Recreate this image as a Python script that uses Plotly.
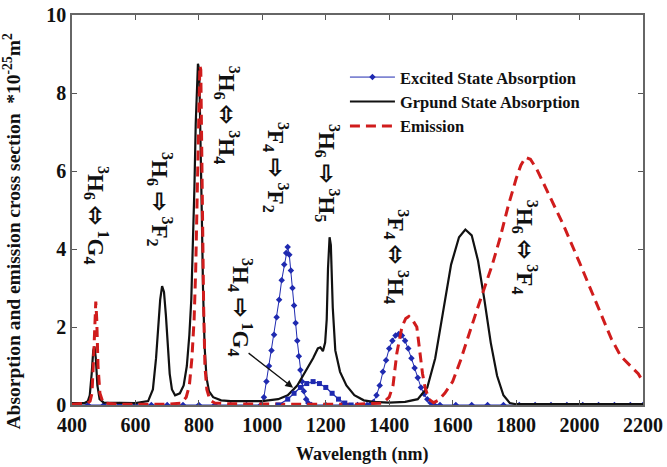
import plotly.graph_objects as go

# ---------------- data ----------------
gsa_x = [400, 440, 450, 456, 462, 467, 471, 475, 480, 487, 500, 540, 600, 640, 655, 665, 672, 678, 684,
         690, 696, 702, 708, 715, 725, 740, 752, 762, 770, 776, 781, 786, 790, 794, 797, 801, 805, 809,
         813, 818, 824, 832, 845, 870, 900, 950, 1000, 1050, 1080, 1110, 1140, 1160, 1175, 1183, 1191,
         1198, 1203, 1207, 1212, 1216, 1222, 1230, 1245, 1265, 1290, 1320, 1350, 1400, 1450, 1490, 1520,
         1545, 1570, 1595, 1620, 1640, 1660, 1680, 1700, 1720, 1740, 1760, 1780, 1800, 1900, 2000, 2100, 2200]
gsa_y = [0.05, 0.05, 0.1, 0.25, 0.8, 1.4, 1.5, 1.2, 0.5, 0.15, 0.06, 0.05, 0.05, 0.1, 0.4, 1.2, 2.0, 2.7, 3.05,
         2.9, 2.3, 1.5, 0.8, 0.4, 0.25, 0.3, 0.5, 1.0, 1.8, 2.7, 4.0, 5.6, 7.2, 8.4, 8.75, 8.6, 7.2, 5.0,
         3.0, 1.5, 0.7, 0.35, 0.2, 0.12, 0.1, 0.1, 0.1, 0.15, 0.25, 0.5, 0.9, 1.2, 1.45, 1.48, 1.38,
         1.6, 2.2, 3.5, 4.3, 4.1, 2.5, 1.4, 0.85, 0.5, 0.25, 0.12, 0.08, 0.06, 0.08, 0.15, 0.45,
         1.2, 2.4, 3.6, 4.3, 4.5, 4.35, 3.7, 2.7, 1.6, 0.75, 0.25, 0.05, 0.02, 0.02, 0.02, 0.02, 0.02]

em_x = [400, 450, 457, 463, 468, 472, 475, 478, 482, 488, 498, 550, 700, 745, 760, 770, 778, 785, 790, 795,
        799, 803, 806, 809, 812, 815, 819, 825, 835, 850, 900, 1100, 1300, 1380, 1400, 1412, 1424, 1440,
        1452, 1462, 1472, 1487, 1497, 1505, 1513, 1525, 1540, 1555, 1575, 1600, 1625, 1650, 1675, 1700,
        1725, 1750, 1775, 1800, 1815, 1830, 1845, 1865, 1900, 1950, 2000, 2050, 2100, 2130, 2160, 2185, 2200]
em_y = [0.02, 0.05, 0.1, 0.3, 1.2, 2.3, 2.65, 2.2, 1.0, 0.3, 0.05, 0.02, 0.02, 0.05, 0.2, 0.5, 1.2, 2.2, 3.5, 5.5,
        7.5, 8.7, 8.6, 7.0, 4.5, 2.5, 1.0, 0.4, 0.12, 0.05, 0.03, 0.02, 0.02, 0.05, 0.2, 0.5, 1.33, 2.0,
        2.22, 2.27, 2.2, 2.0, 1.33, 0.8, 0.45, 0.15, 0.06, 0.12, 0.3, 0.6, 1.15, 1.8, 2.4, 3.0,
        3.6, 4.3, 5.1, 5.8, 6.15, 6.35, 6.3, 6.05, 5.45, 4.6, 3.65, 2.65, 1.7, 1.25, 1.0, 0.8, 0.6]

esa_x = [400, 450, 500, 550, 600, 650, 700, 750, 800, 850, 900, 950, 995, 1005, 1013, 1021, 1029, 1037,
         1045, 1053, 1061, 1069, 1075, 1080, 1085, 1090, 1095, 1100, 1105, 1110, 1115, 1120, 1125, 1131,
         1138, 1145, 1155, 1200, 1250, 1300, 1330, 1340, 1350, 1360, 1370, 1380, 1390, 1400, 1410, 1420,
         1430, 1440, 1450, 1460, 1470, 1480, 1490, 1500, 1510, 1520, 1530, 1540, 1560, 1610, 1660, 1710,
         1760, 1810, 1860, 1910, 1960, 2010, 2060, 2110, 2160, 2200]
esa_y = [0, 0, 0, 0, 0, 0, 0, 0, 0, 0, 0, 0, 0, 0.2, 0.6, 1.0, 1.4, 1.8,
         2.25, 2.7, 3.2, 3.6, 3.9, 4.05, 3.85, 3.45, 3.0, 2.55, 2.1, 1.65, 1.25, 0.9, 0.6, 0.35,
         0.15, 0.05, 0, 0, 0, 0, 0, 0.02, 0.08, 0.25, 0.5, 0.85, 1.15, 1.45, 1.65, 1.78,
         1.82, 1.78, 1.65, 1.45, 1.2, 0.95, 0.7, 0.45, 0.28, 0.15, 0.06, 0.02, 0, 0, 0, 0,
         0, 0, 0, 0, 0, 0, 0, 0, 0, 0]

g4_x = [1050, 1080, 1100, 1120, 1140, 1160, 1180, 1200, 1220, 1240, 1260, 1280]
g4_y = [0, 0.15, 0.3, 0.45, 0.55, 0.6, 0.55, 0.45, 0.3, 0.15, 0.05, 0]

x_ticks = [400, 600, 800, 1000, 1200, 1400, 1600, 1800, 2000, 2200]
y_ticks = [0, 2, 4, 6, 8, 10]

labels = [
    ("<sup>3</sup>H<sub>6</sub> \u2B04 <sup>1</sup>G<sub>4</sub>", 479, 4.87),
    ("<sup>3</sup>H<sub>6</sub> \u21E8 <sup>3</sup>F<sub>2</sub>", 677, 5.26),
    ("<sup>3</sup>H<sub>6</sub> \u2B04 <sup>3</sup>H<sub>4</sub>", 889, 7.44),
    ("<sup>3</sup>F<sub>4</sub> \u21E8 <sup>3</sup>F<sub>2</sub>", 1043, 6.08),
    ("<sup>3</sup>H<sub>6</sub> \u21E8 <sup>3</sup>H<sub>5</sub>", 1204, 5.95),
    ("<sup>3</sup>H<sub>4</sub> \u21E8 <sup>1</sup>G<sub>4</sub>", 933, 2.51),
    ("<sup>3</sup>F<sub>4</sub> \u2B04 <sup>3</sup>H<sub>4</sub>", 1424, 3.79),
    ("<sup>3</sup>H<sub>6</sub> \u2B04 <sup>3</sup>F<sub>4</sub>", 1828, 4.03),
]

SERIF = "Liberation Serif, Times New Roman, serif"
BLUE = "#1f2ab0"
RED = "#d01c1c"

fig = go.Figure()
fig.add_trace(go.Scatter(x=esa_x, y=esa_y, mode="lines+markers", name="Excited State Absorption",
                         line=dict(color=BLUE, width=1), marker=dict(symbol="diamond", size=5, color=BLUE)))
fig.add_trace(go.Scatter(x=gsa_x, y=gsa_y, mode="lines", name="Grpund State Absorption",
                         line=dict(color="#111111", width=2.2)))
fig.add_trace(go.Scatter(x=em_x, y=em_y, mode="lines", name="Emission",
                         line=dict(color=RED, width=3, dash="10px,6px")))
fig.add_trace(go.Scatter(x=g4_x, y=g4_y, mode="lines+markers", showlegend=False,
                         line=dict(color=BLUE, width=1.2),
                         marker=dict(symbol="square", size=5, color=BLUE)))

for txt, lx, ly in labels:
    fig.add_annotation(x=lx, y=ly, text=txt, textangle=90, showarrow=False,
                       font=dict(family=SERIF, size=23, color="#111", weight="bold"),
                       xanchor="center", yanchor="middle")

fig.add_annotation(x=1097, y=0.44, ax=952, ay=1.36, axref="x", ayref="y", xref="x", yref="y",
                   text="", showarrow=True, arrowhead=2, arrowsize=1.2, arrowwidth=1.3, arrowcolor="#111")

# axis titles as annotations for precise placement
fig.add_annotation(xref="paper", yref="paper", x=-0.105, y=0.445, textangle=-90, showarrow=False,
                   text="Absorption and emission cross section  *10<sup>-25</sup>m<sup>2</sup>",
                   font=dict(family=SERIF, size=19.5, color="#111", weight="bold"),
                   xanchor="center", yanchor="middle")
fig.add_annotation(xref="paper", yref="paper", x=0.508, y=-0.128, showarrow=False,
                   text="Wavelength (nm)",
                   font=dict(family=SERIF, size=18, color="#111", weight="bold"),
                   xanchor="center", yanchor="middle")

fig.update_layout(
    width=667, height=467,
    margin=dict(l=72, r=24, t=15, b=62),
    paper_bgcolor="white", plot_bgcolor="white",
    font=dict(family=SERIF, color="#111"),
    showlegend=True,
    legend=dict(x=0.478, y=0.885, xanchor="left", yanchor="top", bgcolor="rgba(0,0,0,0)",
                font=dict(family=SERIF, size=16.5, color="#111", weight="bold"),
                tracegroupgap=0, itemwidth=45),
)
fig.update_xaxes(range=[400, 2200], tickvals=x_ticks, ticktext=[str(v) for v in x_ticks],
                 ticks="inside", ticklen=5, tickcolor="#555", showline=True, mirror="ticks",
                 linecolor="#666", linewidth=1.5, showgrid=False, zeroline=False, automargin=False,
                 ticklabelstandoff=1,
                 tickfont=dict(family=SERIF, size=20, color="#111", weight="bold"))
fig.update_yaxes(range=[0, 10], tickvals=y_ticks, ticktext=[str(v) for v in y_ticks],
                 ticks="inside", ticklen=5, tickcolor="#555", showline=True, mirror="ticks",
                 linecolor="#666", linewidth=1.5, showgrid=False, zeroline=False, automargin=False,
                 tickfont=dict(family=SERIF, size=20, color="#111", weight="bold"))

fig.write_html("out.html")
